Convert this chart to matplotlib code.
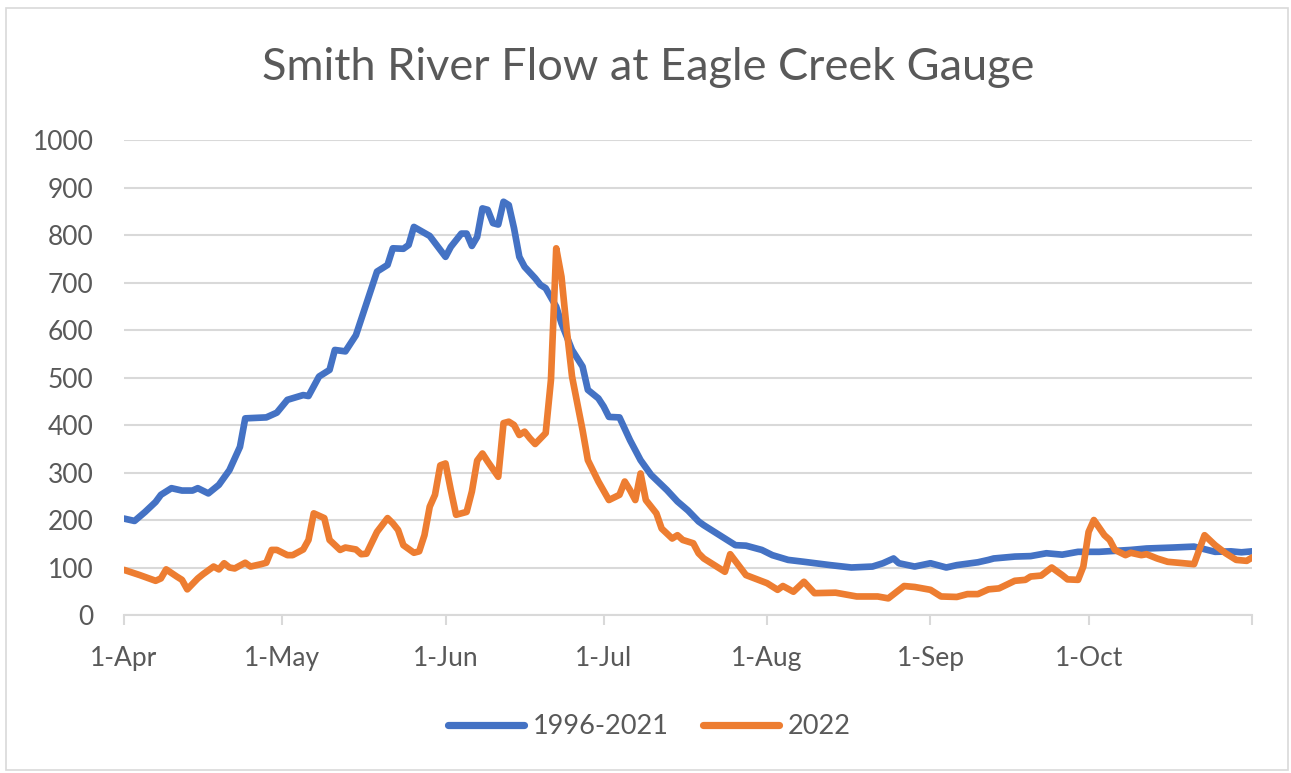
import matplotlib
matplotlib.use("Agg")
import matplotlib.pyplot as plt
from matplotlib.patches import Rectangle
import pandas as pd

# ---- data (day offset from 1-Apr, flow value) ----
avg_days = [0, 2, 4, 6, 7, 9, 11, 13, 14, 16, 18, 20, 22, 23, 27, 29, 31, 34, 35, 37,
            39, 40, 42, 44, 46, 48, 50, 51, 53, 54, 55, 58, 61, 62, 64, 65, 66, 67, 68, 69,
            70, 71, 72, 73, 74, 75, 76, 78, 79, 80, 82, 83, 85, 87, 88, 90, 91, 92, 94, 96,
            98, 100, 103, 105, 107, 109, 110, 113, 116, 118, 121, 123, 126, 129, 134, 138,
            142, 144, 146, 147, 150, 153, 156, 158, 162, 164, 165, 169, 172, 175, 178, 181,
            185, 191, 194, 199, 203, 207, 210, 212, 214]
avg_flow = [203, 198, 217, 238, 253, 267, 262, 262, 267, 256, 274, 305, 354, 414, 416, 426,
            453, 463, 461, 502, 516, 558, 555, 589, 656, 723, 737, 772, 771, 779, 817, 798,
            754, 775, 803, 803, 777, 796, 856, 853, 825, 822, 870, 863, 814, 754, 733, 709,
            695, 688, 649, 614, 558, 523, 474, 456, 439, 417, 416, 368, 326, 295, 263, 239,
            220, 197, 189, 168, 147, 146, 137, 126, 116, 112, 105, 100, 102, 109, 119, 109,
            102, 109, 100, 105, 111, 116, 119, 123, 124, 130, 127, 133, 133, 137, 140, 142,
            144, 133, 134, 132, 134]

y2022_days = [0, 3, 6, 7, 8, 10, 11, 12, 14, 15, 17, 18, 19, 20, 21, 23, 24, 26, 27, 28,
              29, 31, 32, 34, 35, 36, 38, 39, 41, 42, 44, 45, 46, 48, 50, 51, 52, 53, 55, 56,
              57, 58, 59, 60, 61, 62, 63, 65, 66, 67, 68, 69, 71, 72, 73, 74, 75, 76, 77, 78,
              80, 81, 82, 83, 84, 85, 87, 88, 90, 92, 94, 95, 96, 97, 98, 99, 101, 102, 104,
              105, 106, 108, 109, 110, 114, 115, 118, 122, 124, 125, 127, 129, 131, 135, 139,
              143, 145, 148, 150, 153, 155, 158, 160, 162, 164, 166, 169, 171, 172, 174, 176,
              178, 179, 181, 182, 183, 184, 186, 187, 188, 190, 191, 193, 194, 196, 198, 203,
              205, 207, 209, 211, 213, 214]
y2022_flow = [95, 84, 72, 77, 96, 81, 74, 54, 77, 86, 102, 96, 109, 100, 98, 110, 102, 107,
              110, 137, 137, 126, 126, 138, 158, 214, 204, 158, 137, 142, 138, 128, 129, 175,
              204, 193, 179, 147, 131, 134, 168, 228, 253, 315, 319, 263, 211, 217, 260, 325,
              340, 323, 291, 404, 407, 400, 379, 386, 372, 360, 383, 495, 772, 712, 600, 502,
              389, 326, 281, 242, 253, 281, 263, 242, 298, 242, 214, 182, 161, 168, 158, 151,
              130, 119, 91, 128, 84, 67, 53, 61, 49, 70, 46, 47, 39, 39, 35, 61, 59, 53, 39,
              38, 44, 44, 54, 56, 72, 74, 81, 83, 100, 84, 75, 74, 102, 175, 200, 168, 158,
              137, 126, 131, 126, 128, 119, 112, 107, 168, 147, 130, 116, 114, 121]

series_names = ["1996-2021", "2022"]
tick_dates = ["2022-04-01", "2022-05-01", "2022-06-01", "2022-07-01", "2022-08-01",
              "2022-09-01", "2022-10-01", "2022-11-01"]
tick_labels = ["1-Apr", "1-May", "1-Jun", "1-Jul", "1-Aug", "1-Sep", "1-Oct", ""]
y_ticks = [0, 100, 200, 300, 400, 500, 600, 700, 800, 900, 1000]
title = "Smith River Flow at Eagle Creek Gauge"

start = pd.Timestamp("2022-04-01")
avg_x = start + pd.to_timedelta(avg_days, unit="D")
y22_x = start + pd.to_timedelta(y2022_days, unit="D")

FONT = ["Lato", "DejaVu Sans"]
plt.rcParams["font.family"] = FONT
GRAY_TXT = "#595959"
GRID = "#D9D9D9"

W, H = 1291, 773
fig = plt.figure(figsize=(W / 100, H / 100), dpi=100)
fig.patch.set_facecolor("white")

# chart border
fig.add_artist(Rectangle((6 / W, 1 - 770 / H), (1288 - 6) / W, (770 - 8) / H,
                         transform=fig.transFigure, fill=False,
                         edgecolor=GRID, linewidth=1.2))

ax = fig.add_axes([124 / W, 1 - 615 / H, (1252 - 124) / W, (615 - 140) / H])
ax.plot(avg_x, avg_flow, color="#4472C4", linewidth=4.8, solid_joinstyle="round",
        solid_capstyle="round", label=series_names[0], zorder=3)
ax.plot(y22_x, y2022_flow, color="#ED7D31", linewidth=4.8, solid_joinstyle="round",
        solid_capstyle="round", label=series_names[1], zorder=4)

ax.set_ylim(0, 1000)
ax.set_xlim(pd.Timestamp(tick_dates[0]), pd.Timestamp(tick_dates[-1]))
ax.set_yticks(y_ticks)
ax.set_yticklabels([str(v) for v in y_ticks])
ax.set_xticks(pd.to_datetime(tick_dates))
ax.set_xticklabels(tick_labels)

ax.grid(axis="y", color=GRID, linewidth=1.5, zorder=0)
ax.set_axisbelow(True)
for s in ["top", "right", "left"]:
    ax.spines[s].set_visible(False)
ax.spines["bottom"].set_color(GRID)
ax.spines["bottom"].set_linewidth(1.5)
ax.spines["bottom"].set_zorder(1)

ax.tick_params(axis="y", length=0, pad=22, labelsize=19, labelcolor=GRAY_TXT)
ax.tick_params(axis="x", length=7, width=1.5, color=GRID, pad=15, labelsize=19,
               labelcolor=GRAY_TXT)

fig.text(0.502, 1 - 68 / H, title, ha="center", va="center", fontsize=32.5,
         color=GRAY_TXT)

leg = fig.legend(loc="center", bbox_to_anchor=(0.503, 1 - 727 / H), ncol=2,
                 frameon=False, fontsize=19.5, handlelength=2.8, handletextpad=0.3,
                 columnspacing=1.3, labelcolor=GRAY_TXT)
for line in leg.get_lines():
    line.set_linewidth(5.2)
    line.set_solid_capstyle("round")

fig.savefig("out.png", dpi=100, facecolor="white")
